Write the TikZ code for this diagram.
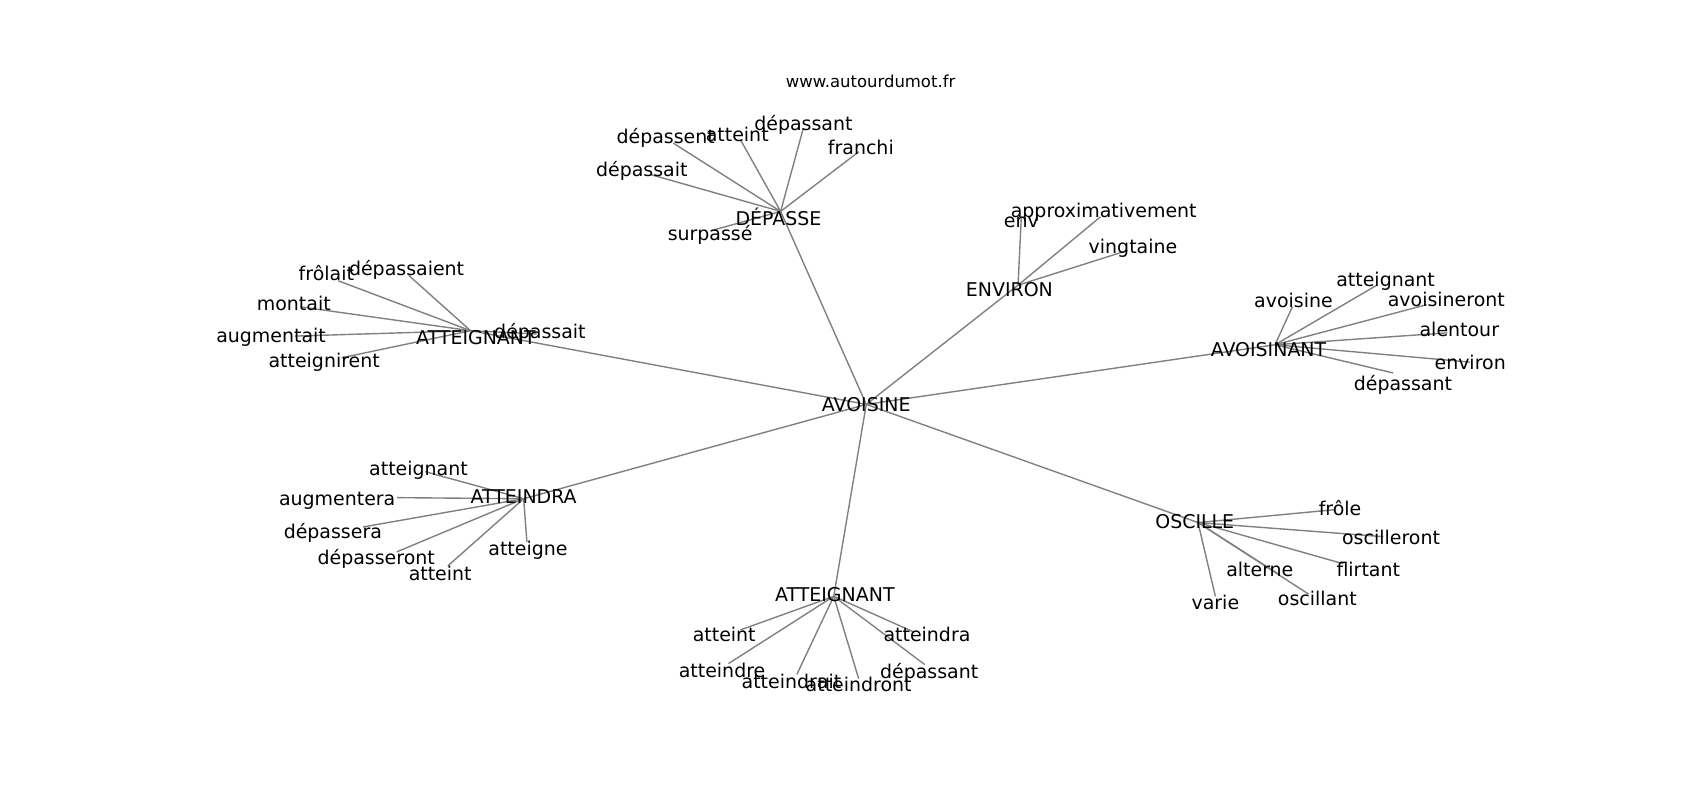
\documentclass[tikz,border=0pt]{standalone}
\usepackage{fontspec}
\setmainfont{DejaVu Sans}
\begin{document}
\begin{tikzpicture}[x=0.7806bp, y=-0.7806bp,
  lbl/.style={anchor=base, yshift=-5.3bp, inner sep=0pt, font=\fontsize{13.7}{16}\selectfont},
  ttl/.style={anchor=base, yshift=-3.6bp, inner sep=0pt, font=\fontsize{11.9}{14}\selectfont},
  edge/.style={draw=black!50, line width=1bp}]
\useasboundingbox[fill=white] (0,0) rectangle (1568,738);
% graph points
\coordinate (p-c) at (799,373);
\coordinate (p-d) at (720,195);
\coordinate (p-d1) at (621,132);
\coordinate (p-d2) at (683,129);
\coordinate (p-d3) at (741,118);
\coordinate (p-d4) at (792,140);
\coordinate (p-d5) at (600,161);
\coordinate (p-d6) at (655,213);
\coordinate (p-e) at (939,263);
\coordinate (p-e1) at (942,200);
\coordinate (p-e2) at (1015,200);
\coordinate (p-e3) at (1040,231);
\coordinate (p-v) at (1176,318);
\coordinate (p-v1) at (1192,283);
\coordinate (p-v2) at (1270,263);
\coordinate (p-v3) at (1316,281);
\coordinate (p-v4) at (1335,307);
\coordinate (p-v5) at (1356,334);
\coordinate (p-v6) at (1285,344);
\coordinate (p-l) at (434,305);
\coordinate (p-l1) at (312,259);
\coordinate (p-l2) at (377,254);
\coordinate (p-l3) at (277,283);
\coordinate (p-l4) at (272,310);
\coordinate (p-l5) at (315,330);
\coordinate (p-l6) at (495,308);
\coordinate (p-r) at (483,460);
\coordinate (p-r1) at (392,435);
\coordinate (p-r2) at (366,459);
\coordinate (p-r3) at (335,486);
\coordinate (p-r4) at (366,509);
\coordinate (p-r5) at (413,522);
\coordinate (p-r6) at (486,500);
\coordinate (p-b) at (769,550);
\coordinate (p-b1) at (683,581);
\coordinate (p-b2) at (672,612);
\coordinate (p-b3) at (735,622);
\coordinate (p-b4) at (792,626);
\coordinate (p-b5) at (843,583);
\coordinate (p-b6) at (853,613);
\coordinate (p-o) at (1105,482);
\coordinate (p-o1) at (1232,470);
\coordinate (p-o2) at (1276,495);
\coordinate (p-o3) at (1239,520);
\coordinate (p-o4) at (1180,530);
\coordinate (p-o5) at (1207,548);
\coordinate (p-o6) at (1121,550);
% edges
\foreach \h in {d,e,v,l,r,b,o} \draw[edge] (p-c) -- (p-\h);
\foreach \i in {1,...,6} \draw[edge] (p-d) -- (p-d\i);
\foreach \i in {1,2,3} \draw[edge] (p-e) -- (p-e\i);
\foreach \i in {1,...,6} \draw[edge] (p-v) -- (p-v\i);
\foreach \i in {1,...,6} \draw[edge] (p-l) -- (p-l\i);
\foreach \i in {1,...,6} \draw[edge] (p-r) -- (p-r\i);
\foreach \i in {1,...,6} \draw[edge] (p-b) -- (p-b\i);
\foreach \i in {1,...,6} \draw[edge] (p-o) -- (p-o\i);
% labels
\node[ttl] (title) at (803,76) {www.autourdumot.fr};
\node[lbl] (c) at (799,373) {AVOISINE};
\node[lbl] (d) at (718,201) {DÉPASSE};
\node[lbl] (d1) at (614,126) {dépassent};
\node[lbl] (d2) at (680,124) {atteint};
\node[lbl] (d3) at (741,114) {dépassant};
\node[lbl] (d4) at (794,136) {franchi};
\node[lbl] (d5) at (592,156) {dépassait};
\node[lbl] (d6) at (655,215) {surpassé};
\node[lbl] (e) at (931,267) {ENVIRON};
\node[lbl] (e1) at (942,203) {env};
\node[lbl] (e2) at (1018,194) {approximativement};
\node[lbl] (e3) at (1045,227) {vingtaine};
\node[lbl] (v) at (1170,322) {AVOISINANT};
\node[lbl] (v1) at (1193,277) {avoisine};
\node[lbl] (v2) at (1278,257) {atteignant};
\node[lbl] (v3) at (1334,276) {avoisineront};
\node[lbl] (v4) at (1346,304) {alentour};
\node[lbl] (v5) at (1356,334) {environ};
\node[lbl] (v6) at (1294,353) {dépassant};
\node[lbl] (l) at (439,311) {ATTEIGNANT};
\node[lbl] (l1) at (301,252) {frôlait};
\node[lbl] (l2) at (375,247) {dépassaient};
\node[lbl] (l3) at (271,280) {montait};
\node[lbl] (l4) at (250,309) {augmentait};
\node[lbl] (l5) at (299,332) {atteignirent};
\node[lbl] (l6) at (498,305) {dépassait};
\node[lbl] (r) at (483,458) {ATTEINDRA};
\node[lbl] (r1) at (386,432) {atteignant};
\node[lbl] (r2) at (311,459) {augmentera};
\node[lbl] (r3) at (307,490) {dépassera};
\node[lbl] (r4) at (347,514) {dépasseront};
\node[lbl] (r5) at (406,529) {atteint};
\node[lbl] (r6) at (487,506) {atteigne};
\node[lbl] (b) at (770,548) {ATTEIGNANT};
\node[lbl] (b1) at (668,585) {atteint};
\node[lbl] (b2) at (666,618) {atteindre};
\node[lbl] (b3) at (730,628) {atteindrait};
\node[lbl] (b4) at (792,631) {atteindront};
\node[lbl] (b5) at (855,585) {atteindra};
\node[lbl] (b6) at (857,619) {dépassant};
\node[lbl] (o) at (1102,481) {OSCILLE};
\node[lbl] (o1) at (1236,469) {frôle};
\node[lbl] (o2) at (1283,495) {oscilleront};
\node[lbl] (o3) at (1262,525) {flirtant};
\node[lbl] (o4) at (1162,525) {alterne};
\node[lbl] (o5) at (1215,552) {oscillant};
\node[lbl] (o6) at (1121,555) {varie};
\end{tikzpicture}
\end{document}
